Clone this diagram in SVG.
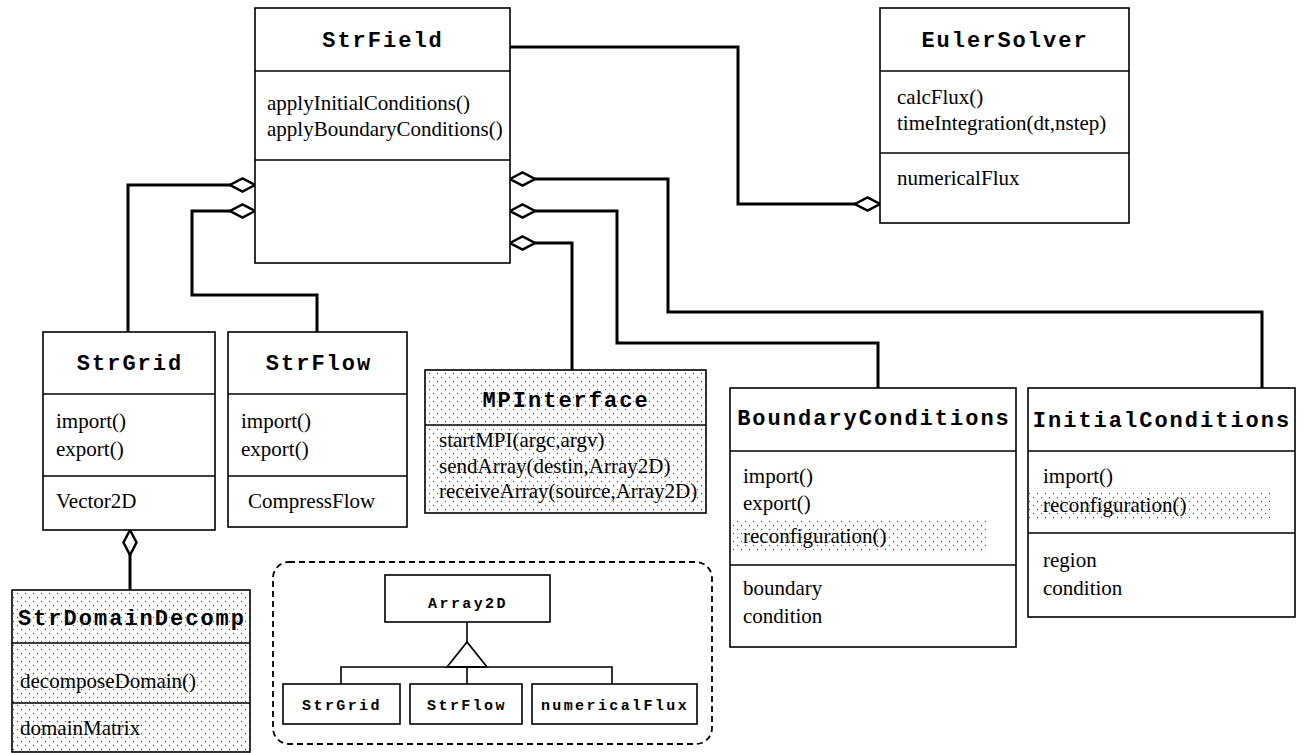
<svg xmlns="http://www.w3.org/2000/svg" width="1308" height="753" viewBox="0 0 1308 753">
<style>
.box{fill:#fff;stroke:#000;stroke-width:1.6}
.dotted{fill:url(#dots);stroke:#000;stroke-width:1.6}
.band{fill:url(#dots);stroke:none}
.sep{stroke:#000;stroke-width:1.6}
.conn{fill:none;stroke:#000;stroke-width:3}
.thin{fill:none;stroke:#000;stroke-width:1.6}
.title{font-family:"Liberation Mono",monospace;font-weight:bold;font-size:22px;letter-spacing:2px;text-anchor:middle;fill:#000}
.txt{font-family:"Liberation Serif",serif;font-size:21px;fill:#000}
.small{font-family:"Liberation Mono",monospace;font-weight:bold;font-size:15px;letter-spacing:2.4px;text-anchor:middle;fill:#000}
</style>
<defs>
<pattern id="dots" width="8" height="8" patternUnits="userSpaceOnUse">
<rect width="8" height="8" fill="#fff"/>
<circle cx="1.5" cy="1.5" r="0.65" fill="#555"/>
<circle cx="5.5" cy="5.5" r="0.65" fill="#555"/>
</pattern>
<marker id="diaStart" markerUnits="userSpaceOnUse" markerWidth="30" markerHeight="16" refX="1" refY="8" orient="auto" viewBox="0 0 30 16">
<path d="M1,8 L13.5,1.5 L26,8 L13.5,14.5 Z" fill="#fff" stroke="#000" stroke-width="2.5"/>
</marker>
<marker id="diaEnd" markerUnits="userSpaceOnUse" markerWidth="30" markerHeight="16" refX="26" refY="8" orient="auto" viewBox="0 0 30 16">
<path d="M1,8 L13.5,1.5 L26,8 L13.5,14.5 Z" fill="#fff" stroke="#000" stroke-width="2.5"/>
</marker>
</defs>
<rect width="1308" height="753" fill="#fff"/>

<g id="connectors">
<path class="conn" d="M510,47 H738 V204 H880" marker-end="url(#diaEnd)"/>
<path class="conn" d="M255,185 H128 V332" marker-start="url(#diaStart)"/>
<path class="conn" d="M255,211 H192 V295 H317 V332" marker-start="url(#diaStart)"/>
<path class="conn" d="M510,179 H668 V312 H1262 V388" marker-start="url(#diaStart)"/>
<path class="conn" d="M510,211 H617 V343 H878 V388" marker-start="url(#diaStart)"/>
<path class="conn" d="M510,243 H572 V370" marker-start="url(#diaStart)"/>
<path class="conn" d="M130,530 V590" marker-start="url(#diaStart)"/>
</g>

<g id="StrField">
<rect class="box" x="255" y="8" width="255" height="255"/>
<line class="sep" x1="255" y1="71" x2="510" y2="71"/>
<line class="sep" x1="255" y1="160" x2="510" y2="160"/>
<text class="title" x="383" y="47">StrField</text>
<text class="txt" x="267" y="110">applyInitialConditions()</text>
<text class="txt" x="267" y="136">applyBoundaryConditions()</text>
</g>

<g id="EulerSolver">
<rect class="box" x="880" y="8" width="249" height="215"/>
<line class="sep" x1="880" y1="71" x2="1129" y2="71"/>
<line class="sep" x1="880" y1="153" x2="1129" y2="153"/>
<text class="title" x="1005" y="47">EulerSolver</text>
<text class="txt" x="897" y="104">calcFlux()</text>
<text class="txt" x="897" y="130">timeIntegration(dt,nstep)</text>
<text class="txt" x="897" y="185">numericalFlux</text>
</g>

<g id="StrGrid">
<rect class="box" x="43" y="332" width="172" height="198"/>
<line class="sep" x1="43" y1="394" x2="215" y2="394"/>
<line class="sep" x1="43" y1="476" x2="215" y2="476"/>
<text class="title" x="130" y="370">StrGrid</text>
<text class="txt" x="56" y="428">import()</text>
<text class="txt" x="56" y="456">export()</text>
<text class="txt" x="56" y="508">Vector2D</text>
</g>

<g id="StrFlow">
<rect class="box" x="228" y="332" width="179" height="195"/>
<line class="sep" x1="228" y1="394" x2="407" y2="394"/>
<line class="sep" x1="228" y1="476" x2="407" y2="476"/>
<text class="title" x="319" y="370">StrFlow</text>
<text class="txt" x="241" y="428">import()</text>
<text class="txt" x="241" y="456">export()</text>
<text class="txt" x="248" y="508">CompressFlow</text>
</g>

<g id="MPInterface">
<rect class="dotted" x="425" y="370" width="281" height="143"/>
<line class="sep" x1="425" y1="425" x2="706" y2="425"/>
<text class="title" x="566" y="407">MPInterface</text>
<text class="txt" x="439" y="447">startMPI(argc,argv)</text>
<text class="txt" x="439" y="473">sendArray(destin,Array2D)</text>
<text class="txt" x="439" y="498">receiveArray(source,Array2D)</text>
</g>

<g id="BoundaryConditions">
<rect class="box" x="730" y="388" width="286" height="259"/>
<rect class="band" x="731" y="520" width="256" height="33"/>
<line class="sep" x1="730" y1="451" x2="1016" y2="451"/>
<line class="sep" x1="730" y1="565" x2="1016" y2="565"/>
<text class="title" x="874" y="425">BoundaryConditions</text>
<text class="txt" x="743" y="483">import()</text>
<text class="txt" x="743" y="510">export()</text>
<text class="txt" x="743" y="543">reconfiguration()</text>
<text class="txt" x="743" y="595">boundary</text>
<text class="txt" x="743" y="623">condition</text>
</g>

<g id="InitialConditions">
<rect class="box" x="1028" y="388" width="267" height="229"/>
<rect class="band" x="1029" y="490" width="241" height="30"/>
<line class="sep" x1="1028" y1="451" x2="1295" y2="451"/>
<line class="sep" x1="1028" y1="533" x2="1295" y2="533"/>
<text class="title" x="1162" y="427">InitialConditions</text>
<text class="txt" x="1043" y="483">import()</text>
<text class="txt" x="1043" y="512">reconfiguration()</text>
<text class="txt" x="1043" y="567">region</text>
<text class="txt" x="1043" y="595">condition</text>
</g>

<g id="StrDomainDecomp">
<rect class="dotted" x="12" y="590" width="238" height="162"/>
<line class="sep" x1="12" y1="643" x2="250" y2="643"/>
<line class="sep" x1="12" y1="703" x2="250" y2="703"/>
<text class="title" x="132" y="625">StrDomainDecomp</text>
<text class="txt" x="20" y="688">decomposeDomain()</text>
<text class="txt" x="20" y="735">domainMatrix</text>
</g>

<g id="Array2DInset">
<rect x="273" y="562" width="439" height="182" rx="16" fill="none" stroke="#000" stroke-width="1.8" stroke-dasharray="6 4"/>
<g id="Array2D">
<rect class="box" x="385" y="575" width="165" height="47"/>
<text class="small" x="468" y="608">Array2D</text>
</g>
<path class="thin" d="M467,622 V642 M341,684 V667 H612 V684 M467,667 V684"/>
<polygon points="467,642 447,667 487,667" fill="#fff" stroke="#000" stroke-width="1.8"/>
<g id="StrGridSmall">
<rect class="box" x="283" y="684" width="117" height="40"/>
<text class="small" x="342" y="710">StrGrid</text>
</g>
<g id="StrFlowSmall">
<rect class="box" x="410" y="684" width="112" height="40"/>
<text class="small" x="467" y="710">StrFlow</text>
</g>
<g id="numericalFluxSmall">
<rect class="box" x="532" y="684" width="165" height="40"/>
<text class="small" x="615" y="710">numericalFlux</text>
</g>
</g>
</svg>
